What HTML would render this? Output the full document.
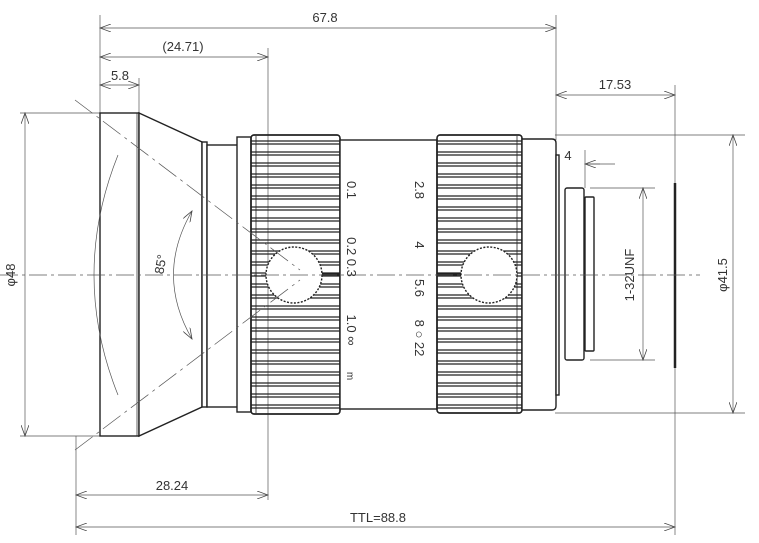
<!DOCTYPE html>
<html><head><meta charset="utf-8"><style>
html,body{margin:0;padding:0;background:#fff;}
svg text{font-family:"Liberation Sans",sans-serif;fill:#333;}
</style></head><body>
<svg width="759" height="538" viewBox="0 0 759 538" xmlns="http://www.w3.org/2000/svg">
<defs>
<marker id="a" markerWidth="12" markerHeight="8" refX="11" refY="4" orient="auto-start-reverse" markerUnits="userSpaceOnUse">
<path d="M0,0 L11,4 L0,8" fill="none" stroke="#444" stroke-width="0.8"/></marker>
<pattern id="rib" x="0" y="0" width="760" height="11" patternUnits="userSpaceOnUse">
<line x1="0" y1="1" x2="760" y2="1" stroke="#222" stroke-width="1.2"/>
<line x1="0" y1="9" x2="760" y2="9" stroke="#222" stroke-width="1.2"/>
</pattern>
</defs>
<g fill="none" stroke="#555" stroke-width="0.7">
<line x1="100" y1="15" x2="100" y2="113"/>
<line x1="139" y1="78" x2="139" y2="113"/>
<line x1="268" y1="48" x2="268" y2="500"/>
<line x1="556" y1="15" x2="556" y2="140"/>
<line x1="675" y1="85" x2="675" y2="535"/>
<line x1="76" y1="436" x2="76" y2="535"/>
<line x1="20" y1="113" x2="100" y2="113"/>
<line x1="20" y1="436" x2="100" y2="436"/>
<line x1="555" y1="135" x2="745" y2="135"/>
<line x1="555" y1="413" x2="745" y2="413"/>
<line x1="590" y1="188" x2="655" y2="188"/>
<line x1="590" y1="360" x2="655" y2="360"/>
<line x1="585" y1="150" x2="585" y2="188"/>
<line x1="100" y1="28" x2="556" y2="28" marker-start="url(#a)" marker-end="url(#a)"/>
<line x1="100" y1="57" x2="268" y2="57" marker-start="url(#a)" marker-end="url(#a)"/>
<line x1="100" y1="85" x2="139" y2="85" marker-start="url(#a)" marker-end="url(#a)"/>
<line x1="556" y1="95" x2="675" y2="95" marker-start="url(#a)" marker-end="url(#a)"/>
<line x1="25" y1="113" x2="25" y2="436" marker-start="url(#a)" marker-end="url(#a)"/>
<line x1="733" y1="135" x2="733" y2="413" marker-start="url(#a)" marker-end="url(#a)"/>
<line x1="643" y1="188" x2="643" y2="360" marker-start="url(#a)" marker-end="url(#a)"/>
<line x1="76" y1="495" x2="268" y2="495" marker-start="url(#a)" marker-end="url(#a)"/>
<line x1="76" y1="527" x2="675" y2="527" marker-start="url(#a)" marker-end="url(#a)"/>
<line x1="525" y1="164" x2="556" y2="164" marker-end="url(#a)"/>
<line x1="600" y1="164" x2="585" y2="164" marker-end="url(#a)"/>
<line x1="585" y1="164" x2="615" y2="164"/>
</g>
<g fill="#fff" stroke="#222" stroke-width="1.4">
<rect x="100" y="113" width="39" height="323"/>
<line x1="137" y1="113" x2="137" y2="436" stroke-width="0.7"/>
<path d="M139,113 L202,142 L202,407 L139,436 Z"/>
<rect x="202" y="142" width="5" height="265"/>
<rect x="207" y="145" width="31" height="262"/>
<rect x="237" y="137" width="14" height="275"/>
<rect x="251" y="135" width="89" height="279" rx="3" fill="url(#rib)"/>
<rect x="251" y="135" width="89" height="279" rx="3" fill="none"/>
<line x1="256" y1="136" x2="256" y2="413" stroke-width="0.8"/>
<rect x="340" y="140" width="97" height="269"/>
<rect x="437" y="135" width="85" height="278" rx="3" fill="url(#rib)"/>
<rect x="437" y="135" width="85" height="278" rx="3" fill="none"/>
<line x1="517" y1="136" x2="517" y2="412" stroke-width="0.8"/>
<path d="M522,139 L552,139 Q556,139 556,143 L556,406 Q556,410 552,410 L522,410 Z"/>
<rect x="556" y="155" width="3" height="240"/>
<rect x="565" y="188" width="19" height="172" rx="2"/>
<rect x="585" y="197" width="9" height="154" rx="1"/>
<line x1="675" y1="183" x2="675" y2="368" stroke-width="2.5"/>
<circle cx="294" cy="275" r="28" stroke-dasharray="2,1.5"/>
<circle cx="489" cy="275" r="28" stroke-dasharray="2,1.5"/>
<line x1="322" y1="275" x2="340" y2="275" stroke-width="3"/>
<line x1="437" y1="275" x2="461" y2="275" stroke-width="3"/>
</g>
<g fill="none" stroke="#555" stroke-width="0.7">
<line x1="0" y1="275" x2="700" y2="275" stroke-dasharray="18,4,3,4"/>
<line x1="75" y1="100" x2="300" y2="270" stroke-dasharray="22,5,3,5"/>
<line x1="75" y1="450" x2="300" y2="280" stroke-dasharray="22,5,3,5"/>
<path d="M192,211 Q155,275 192,339" marker-start="url(#a)" marker-end="url(#a)"/>
<path d="M118,155 Q70,275 118,395"/>
</g>
<g font-size="13">
<text x="325" y="22" text-anchor="middle">67.8</text>
<text x="183" y="51" text-anchor="middle">(24.71)</text>
<text x="120" y="80" text-anchor="middle">5.8</text>
<text x="615" y="89" text-anchor="middle">17.53</text>
<text x="172" y="490" text-anchor="middle">28.24</text>
<text x="378" y="522" text-anchor="middle">TTL=88.8</text>
<text x="568" y="160" text-anchor="middle">4</text>
<text transform="translate(15,275) rotate(-90)" text-anchor="middle">φ48</text>
<text transform="translate(727,275) rotate(-90)" text-anchor="middle">φ41.5</text>
<text transform="translate(634,275) rotate(-90)" text-anchor="middle">1-32UNF</text>
<text transform="translate(165,265) rotate(-80)" text-anchor="middle">85°</text>
</g>
<g font-size="13">
<text transform="translate(347,190) rotate(90)" text-anchor="middle">0.1</text>
<text transform="translate(347,257) rotate(90)" text-anchor="middle">0.2 0.3</text>
<text transform="translate(347,330) rotate(90)" text-anchor="middle">1.0 ∞</text>
<text transform="translate(347,376) rotate(90)" text-anchor="middle" font-size="10">m</text>
<text transform="translate(415,190) rotate(90)" text-anchor="middle">2.8</text>
<text transform="translate(415,245) rotate(90)" text-anchor="middle">4</text>
<text transform="translate(415,288) rotate(90)" text-anchor="middle">5.6</text>
<text transform="translate(415,338) rotate(90)" text-anchor="middle">8 ○ 22</text>
</g>
</svg>
</body></html>
